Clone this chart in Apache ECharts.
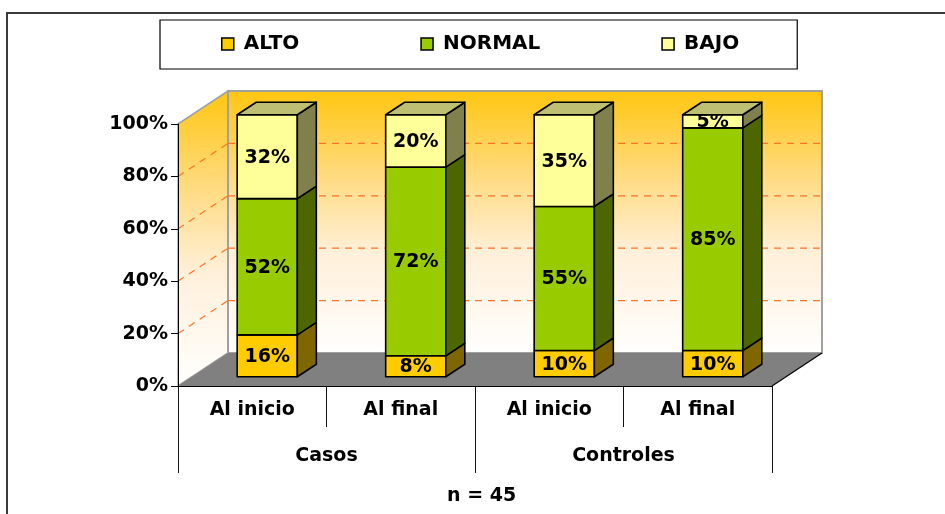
<!DOCTYPE html>
<html>
<head>
<meta charset="utf-8">
<script src="https://cdn.jsdelivr.net/npm/echarts@6/dist/echarts.min.js"></script>
<style>
  html, body { margin: 0; padding: 0; background: #fff; }
  #chart { width: 945px; height: 514px; }
</style>
</head>
<body>
<div id="chart"></div>
<script>
// data
const categories = ['Al inicio', 'Al final', 'Al inicio', 'Al final']
const groups = ['Casos', 'Controles']
const alto = [16, 8, 10, 10]
const normal = [52, 72, 55, 85]
const bajo = [32, 20, 35, 5]
const wallTicks = [20, 40, 60, 80]

// 3d look
const DEPTH = [50, -33]      // offset of the back wall, px
const BAR_FRONT = 0.28       // depth position of the bar front face
const BAR_BACK = 0.66
const BAR_RATIO = 0.405
const FONT = '"DejaVu Sans", sans-serif'

const seriesDefs = [
  { name: 'ALTO', values: alto, front: '#FFCC00', side: '#806600', top: '#BFA600' },
  { name: 'NORMAL', values: normal, front: '#99CC00', side: '#4D6600', top: '#739900' },
  { name: 'BAJO', values: bajo, front: '#FFFF99', side: '#80804D', top: '#BFBF73' }
]

function wallGradient() {
  return new echarts.graphic.LinearGradient(0, 0, 0, 1, [
    { offset: 0, color: '#FFC60F' },
    { offset: 0.3, color: '#FFD978' },
    { offset: 0.62, color: '#FFF0DA' },
    { offset: 1, color: '#FFFFFF' }
  ])
}

function renderWalls(params, api) {
  const cs = params.coordSys
  const L = cs.x, R = cs.x + cs.width, T = cs.y, B = cs.y + cs.height
  const dx = DEPTH[0], dy = DEPTH[1]
  const dash = { stroke: '#FF7326', lineWidth: 1.2, lineDash: [7, 6] }
  const children = [
    { type: 'polygon', shape: { points: [[L, B], [L, T], [L + dx, T + dy], [L + dx, B + dy]] },
      style: { fill: wallGradient(), stroke: '#A0A0A0', lineWidth: 1.5 } },
    { type: 'rect', shape: { x: L + dx, y: T + dy, width: R - L, height: B - T },
      style: { fill: wallGradient(), stroke: '#A0A0A0', lineWidth: 2 } },
    { type: 'polygon', shape: { points: [[L, B], [R, B], [R + dx, B + dy], [L + dx, B + dy]] },
      style: { fill: '#808080' } },
    { type: 'line', shape: { x1: R, y1: B, x2: R + dx, y2: B + dy }, style: { stroke: '#000', lineWidth: 1.2 } }
  ]
  wallTicks.forEach(t => {
    const y = api.coord([0, t])[1]
    children.push({ type: 'line', shape: { x1: L, y1: y, x2: L + dx, y2: y + dy }, style: dash })
    children.push({ type: 'line', shape: { x1: L + dx, y1: y + dy, x2: R + dx, y2: y + dy }, style: dash })
  })
  return { type: 'group', children }
}

function barRenderer(def, isTop) {
  return function (params, api) {
    const i = api.value(0), lo = api.value(1), hi = api.value(2), v = api.value(3)
    const w = api.size([1, 0])[0] * BAR_RATIO
    const b = api.coord([i, lo]), t = api.coord([i, hi])
    const fx = DEPTH[0] * BAR_FRONT, fy = DEPTH[1] * BAR_FRONT
    const dx = DEPTH[0] * (BAR_BACK - BAR_FRONT), dy = DEPTH[1] * (BAR_BACK - BAR_FRONT)
    const x0 = b[0] - w / 2 + fx + 1, x1 = x0 + w
    const yb = b[1] + fy, yt = t[1] + fy
    const edge = { stroke: '#000', lineWidth: 1.6, lineJoin: 'round' }
    const children = [
      { type: 'rect', shape: { x: x0, y: yt, width: w, height: yb - yt },
        style: Object.assign({ fill: def.front }, edge) },
      { type: 'group',
        clipPath: { type: 'rect', shape: { x: x0, y: yt, width: w, height: yb - yt } },
        children: [{ type: 'text', x: (x0 + x1) / 2, y: (yt + yb) / 2 + 1,
          style: { text: v + '%', font: 'bold 19px ' + FONT, fill: '#000', align: 'center', verticalAlign: 'middle' } }] },
      { type: 'polygon', shape: { points: [[x1, yb], [x1 + dx, yb + dy], [x1 + dx, yt + dy], [x1, yt]] },
        style: Object.assign({ fill: def.side }, edge) }
    ]
    if (isTop) {
      children.push({ type: 'polygon', shape: { points: [[x0, yt], [x1, yt], [x1 + dx, yt + dy], [x0 + dx, yt + dy]] },
        style: Object.assign({ fill: def.top }, edge) })
    }
    return { type: 'group', children }
  }
}

const stackBase = categories.map(() => 0)
const barSeries = seriesDefs.map((def, k) => {
  const data = def.values.map((v, i) => {
    const item = [i, stackBase[i], stackBase[i] + v, v]
    stackBase[i] += v
    return item
  })
  return {
    name: def.name,
    type: 'custom',
    z: 3,
    itemStyle: { color: def.front },
    renderItem: barRenderer(def, k === seriesDefs.length - 1),
    encode: { x: 0, y: 2 },
    data
  }
})

const labelStyle = { fontSize: 19, fontWeight: 'bold', fontFamily: FONT, color: '#000' }

const option = {
  animation: false,
  backgroundColor: '#fff',
  title: {
    text: 'n = 45',
    left: 447,
    top: 487,
    padding: 0,
    textStyle: labelStyle
  },
  legend: {
    left: 160,
    top: 20,
    padding: [14, 58, 15, 61],
    itemGap: 121,
    itemWidth: 12,
    itemHeight: 12,
    borderColor: '#000',
    borderWidth: 1.2,
    backgroundColor: '#fff',
    textStyle: Object.assign({}, labelStyle, { fontSize: 20, padding: [0, 0, 0, 5] }),
    data: seriesDefs.map(d => ({
      name: d.name,
      icon: 'rect',
      itemStyle: { color: d.front, borderColor: '#000', borderWidth: 1.5 }
    }))
  },
  graphic: [{
    type: 'rect',
    silent: true,
    z: -1,
    shape: { x: 7, y: 13, width: 1000, height: 600 },
    style: { fill: 'none', stroke: '#3A3A3A', lineWidth: 2 }
  }],
  grid: { left: 178, right: 173, top: 124, bottom: 128 },
  xAxis: [
    {
      type: 'category',
      data: categories,
      position: 'bottom',
      z: 5,
      axisLine: { onZero: false, lineStyle: { color: '#000', width: 1.2 } },
      axisTick: { show: true, interval: 0, length: 41, lineStyle: { color: '#111' } },
      axisLabel: Object.assign({ margin: 15, interval: 0 }, labelStyle)
    },
    {
      type: 'category',
      data: groups,
      position: 'bottom',
      offset: 0,
      z: 5,
      axisLine: { show: false, onZero: false },
      axisTick: { show: true, interval: 0, length: 87, lineStyle: { color: '#111' } },
      axisLabel: Object.assign({ margin: 61, interval: 0 }, labelStyle)
    }
  ],
  yAxis: {
    type: 'value',
    min: 0,
    max: 100,
    interval: 20,
    z: 5,
    axisLine: { show: true, lineStyle: { color: '#000' } },
    axisTick: { show: true, length: 7, lineStyle: { color: '#000' } },
    splitLine: { show: false },
    axisLabel: Object.assign({ margin: 10, formatter: '{value}%' }, labelStyle)
  },
  series: [{
    name: 'walls',
    type: 'custom',
    silent: true,
    z: 1,
    renderItem: renderWalls,
    data: [[0, 0]]
  }].concat(barSeries)
}

const chart = echarts.init(document.getElementById('chart'))
chart.setOption(option)
</script>
</body>
</html>
